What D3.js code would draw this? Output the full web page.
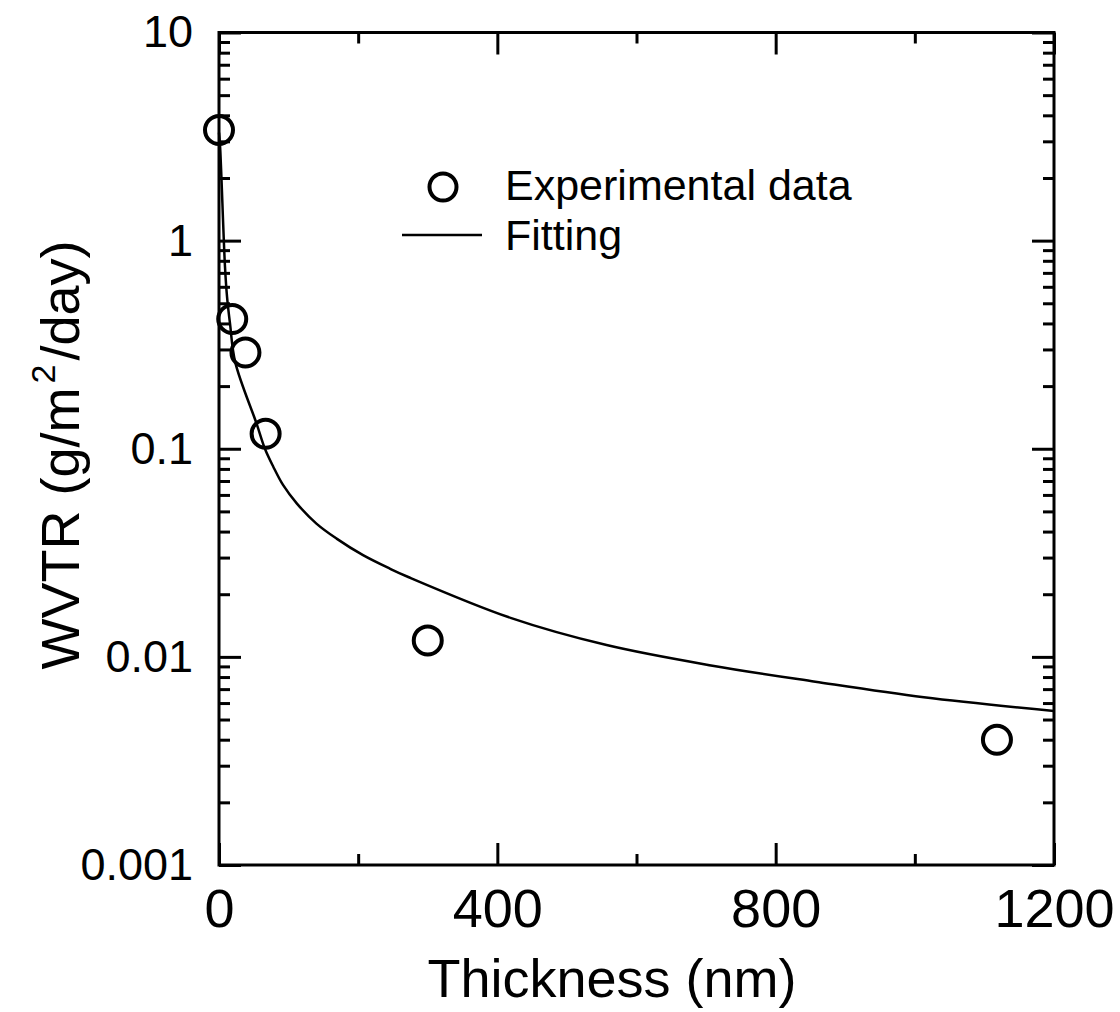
<!DOCTYPE html>
<html>
<head>
<meta charset="utf-8">
<script src="https://cdn.jsdelivr.net/npm/d3@7"></script>
<style>
  body { margin: 0; background: #fff; }
  text { font-family: "Liberation Sans", Arial, Helvetica, sans-serif; fill: #000; }
</style>
</head>
<body>
<svg id="chart" width="1120" height="1012"></svg>
<script>
// experimental points
const expX = [0, 19, 38, 67, 300, 1118];
const expY = [3.4, 0.42, 0.29, 0.118, 0.012, 0.0040];

// fitting curve
const fitX = [0, 1.4, 8.6, 11.5, 15.8, 23.4, 54, 66, 78, 92, 112, 140, 169, 207, 246, 272, 419, 557, 707, 857, 1013, 1200];
const fitY = [3.3, 2.9, 0.75, 0.54, 0.4, 0.26, 0.132, 0.100, 0.082, 0.067, 0.0545, 0.0437, 0.037, 0.0308, 0.0265, 0.0242, 0.0154, 0.0114, 0.0091, 0.0076, 0.0064, 0.0055];

// ticks
const xMajor = [0, 400, 800, 1200];
const xMinor = [200, 600, 1000];
const yMajor = [0.001, 0.01, 0.1, 1, 10];
const yTickLabels = ["0.001", "0.01", "0.1", "1", "10"];
const legendLabels = ["Experimental data", "Fitting"];

const svg = d3.select("#chart");

// plot area
const plotL = 219, plotR = 1054, plotT = 32.5, plotB = 865;

const x = d3.scaleLinear().domain([0, 1200]).range([plotL, plotR]);
const y = d3.scaleLog().domain([0.001, 10]).range([plotB, plotT]);

// minor ticks of the log axis: 2..9 in each decade
const yMinor = [];
yMajor.slice(0, -1).forEach(d => {
    for (let k = 2; k <= 9; k++) yMinor.push(d * k);
});

const majorLen = 22, minorLen = 11;

function styleAxis(g) {
    g.select(".domain").remove();
    g.selectAll("line").attr("stroke", "#000").attr("stroke-width", 3);
}

// bottom
svg.append("g")
    .attr("transform", `translate(0,${plotB})`)
    .call(d3.axisBottom(x).tickValues(xMajor).tickSize(-majorLen).tickPadding(24).tickFormat(d3.format("d")))
    .call(styleAxis)
    .selectAll("text").attr("font-size", 54);
svg.append("g")
    .attr("transform", `translate(0,${plotB})`)
    .call(d3.axisBottom(x).tickValues(xMinor).tickSize(-minorLen).tickFormat(""))
    .call(styleAxis);

// top
svg.append("g")
    .attr("transform", `translate(0,${plotT})`)
    .call(d3.axisTop(x).tickValues(xMajor).tickSize(-majorLen).tickFormat(""))
    .call(styleAxis);
svg.append("g")
    .attr("transform", `translate(0,${plotT})`)
    .call(d3.axisTop(x).tickValues(xMinor).tickSize(-minorLen).tickFormat(""))
    .call(styleAxis);

// left
svg.append("g")
    .attr("transform", `translate(${plotL},0)`)
    .call(d3.axisLeft(y).tickValues(yMajor).tickSize(-majorLen).tickPadding(26)
        .tickFormat((d, i) => yTickLabels[i]))
    .call(styleAxis)
    .selectAll("text").attr("font-size", 45);
svg.append("g")
    .attr("transform", `translate(${plotL},0)`)
    .call(d3.axisLeft(y).tickValues(yMinor).tickSize(-minorLen).tickFormat(""))
    .call(styleAxis);

// right
svg.append("g")
    .attr("transform", `translate(${plotR},0)`)
    .call(d3.axisRight(y).tickValues(yMajor).tickSize(-majorLen).tickFormat(""))
    .call(styleAxis);
svg.append("g")
    .attr("transform", `translate(${plotR},0)`)
    .call(d3.axisRight(y).tickValues(yMinor).tickSize(-minorLen).tickFormat(""))
    .call(styleAxis);

// frame
svg.append("rect")
    .attr("x", plotL).attr("y", plotT)
    .attr("width", plotR - plotL).attr("height", plotB - plotT)
    .attr("fill", "none").attr("stroke", "#000").attr("stroke-width", 3);

// fitting curve
const fitData = fitX.map((d, i) => [d, fitY[i]]);
svg.append("path")
    .datum(fitData)
    .attr("fill", "none")
    .attr("stroke", "#000")
    .attr("stroke-width", 2.5)
    .attr("d", d3.line().x(d => x(d[0])).y(d => y(d[1])).curve(d3.curveCatmullRom.alpha(0.5)));

// experimental circles
svg.selectAll(".pt")
    .data(expX.map((d, i) => [d, expY[i]]))
    .enter()
    .append("circle")
    .attr("class", "pt")
    .attr("cx", d => x(d[0]))
    .attr("cy", d => y(d[1]))
    .attr("r", 14)
    .attr("fill", "none")
    .attr("stroke", "#000")
    .attr("stroke-width", 4);

// legend
const lg = svg.append("g");
lg.append("circle")
    .attr("cx", 443).attr("cy", 187).attr("r", 13.5)
    .attr("fill", "none").attr("stroke", "#000").attr("stroke-width", 4);
lg.append("line")
    .attr("x1", 402).attr("x2", 482).attr("y1", 235).attr("y2", 235)
    .attr("stroke", "#000").attr("stroke-width", 2.5);
lg.selectAll("text")
    .data(legendLabels)
    .enter()
    .append("text")
    .attr("x", 505)
    .attr("y", (d, i) => 200 + i * 50)
    .attr("font-size", 43)
    .text(d => d);

// axis titles
svg.append("text")
    .attr("x", 612).attr("y", 997)
    .attr("text-anchor", "middle")
    .attr("font-size", 54)
    .text("Thickness (nm)");

const yt = svg.append("text")
    .attr("transform", "translate(79,455) rotate(-90)")
    .attr("text-anchor", "middle")
    .attr("font-size", 54);
yt.append("tspan").text("WVTR (g/m");
yt.append("tspan").attr("font-size", 34).attr("dx", 4).attr("dy", -24).text("2");
yt.append("tspan").attr("dx", 4).attr("dy", 24).text("/day)");
</script>
</body>
</html>
